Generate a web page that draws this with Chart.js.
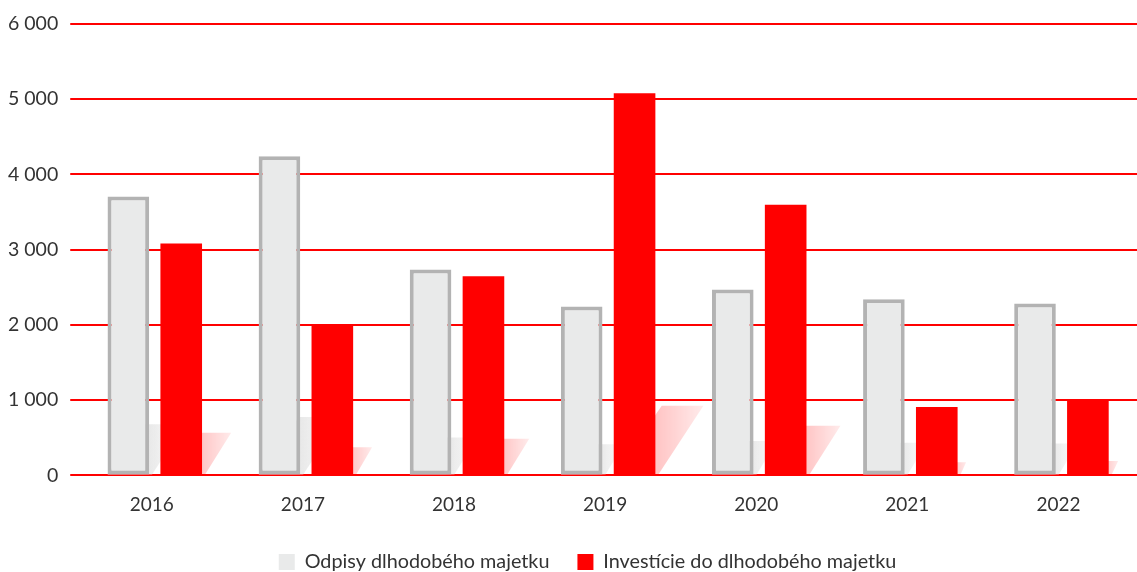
<!DOCTYPE html>
<html>
<head>
<meta charset="utf-8">
<script src="https://cdn.jsdelivr.net/npm/chart.js"></script>
<style>
  html, body { margin: 0; padding: 0; background: #fff; }
  #wrap { width: 1137px; height: 572px; }
</style>
</head>
<body>
<div id="wrap"><canvas id="barChart"></canvas></div>
<script>
// data
const years = ["2016", "2017", "2018", "2019", "2020", "2021", "2022"];
const odpisy = [3705, 4240, 2735, 2245, 2470, 2340, 2285];
const investicie = [3080, 2010, 2645, 5075, 3595, 910, 1005];
const seriesNames = ["Odpisy dlhodobého majetku", "Investície do dlhodobého majetku"];

const FONT = "Lato, 'Open Sans', sans-serif";

// soft skewed "reflection" shape drawn behind every bar
const barShadows = {
  id: "barShadows",
  beforeDatasetsDraw(chart) {
    const ctx = chart.ctx;
    const colors = ["rgba(225,225,225,0.85)", "rgba(255,0,0,0.25)"];
    chart.data.datasets.forEach((ds, i) => {
      const meta = chart.getDatasetMeta(i);
      meta.data.forEach(bar => {
        const h = bar.base - bar.y;
        const sh = h * 0.18;
        const skew = sh * 0.7;
        const left = bar.x - bar.width / 2;
        const right = bar.x + bar.width / 2;
        ctx.save();
        const g = ctx.createLinearGradient(right - 6, 0, right + skew, 0);
        g.addColorStop(0, colors[i]);
        g.addColorStop(1, colors[i].replace(/[\d.]+\)$/, "0.08)"));
        ctx.fillStyle = g;
        ctx.beginPath();
        ctx.moveTo(left, bar.base);
        ctx.lineTo(right + 3, bar.base);
        ctx.lineTo(right + skew, bar.base - sh);
        ctx.lineTo(left + skew, bar.base - sh);
        ctx.closePath();
        ctx.fill();
        ctx.restore();
      });
    });
  }
};

// legend in the original sits a little right of the canvas centre
const legendShift = {
  id: "legendShift",
  afterLayout(chart) {
    chart.legend.left += 21;
    chart.legend.right += 21;
  }
};

new Chart(document.getElementById("barChart"), {
  type: "bar",
  data: {
    labels: years,
    datasets: [
      {
        label: seriesNames[0],
        data: odpisy,
        backgroundColor: "#e9eaea",
        borderColor: "#b3b3b3",
        borderWidth: 4,
        borderSkipped: false,
      },
      {
        label: seriesNames[1],
        data: investicie,
        backgroundColor: "#ff0000",
        borderWidth: 0,
      },
    ],
  },
  options: {
    responsive: true,
    maintainAspectRatio: false,
    animation: false,
    layout: { padding: { top: 5, left: -4, right: 0, bottom: -10 } },
    datasets: { bar: { categoryPercentage: 0.70, barPercentage: 0.787 } },
    scales: {
      x: {
        grid: { display: false, drawTicks: false },
        border: { display: false },
        ticks: { color: "#333", font: { family: FONT, size: 19 }, padding: 18, labelOffset: -3 },
        afterFit(scale) { scale.height -= 10; },
      },
      y: {
        min: 0,
        max: 6000,
        // grid ticks stretch the red lines left of the plot area like in the original
        grid: { color: "#ff0000", lineWidth: 2, drawTicks: true, tickLength: 9 },
        border: { display: false },
        ticks: {
          stepSize: 1000,
          color: "#333",
          padding: 12,
          font: { family: FONT, size: 19.5 },
          callback: v => String(v).replace(/\B(?=(\d{3})+(?!\d))/g, " "),
        },
      },
    },
    plugins: {
      legend: {
        position: "bottom",
        labels: {
          color: "#333",
          font: { family: FONT, size: 19.8 },
          boxWidth: 16,
          boxHeight: 16,
          padding: 28,
          generateLabels(chart) {
            return Chart.defaults.plugins.legend.labels.generateLabels(chart).map(l => {
              l.lineWidth = 0;
              l.strokeStyle = "rgba(0,0,0,0)";
              return l;
            });
          },
        },
      },
      tooltip: { enabled: false },
    },
  },
  plugins: [barShadows, legendShift],
});
</script>
</body>
</html>
